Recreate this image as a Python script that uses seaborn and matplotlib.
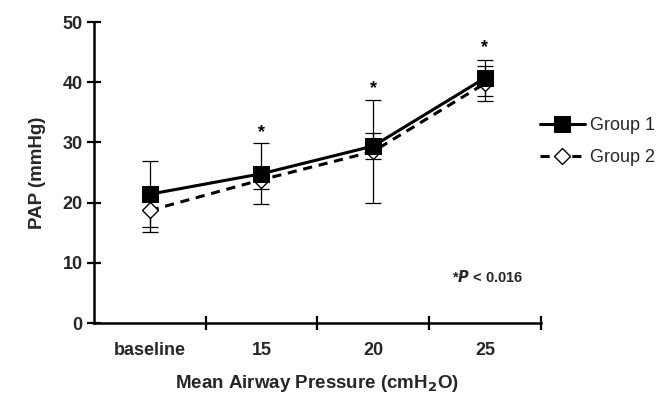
import numpy as np
import pandas as pd
import matplotlib
matplotlib.use('Agg')
import matplotlib.pyplot as plt
import seaborn as sns

# ---- data ----
categories = ['baseline', '15', '20', '25']
group1_mean = [21.4, 24.8, 29.4, 40.7]
group1_sd = [5.5, 5.1, 2.1, 3.0]
group2_mean = [18.7, 23.8, 28.5, 39.8]
group2_sd = [3.5, 1.5, 8.5, 2.9]
star_y = [None, 31.6, 39.0, 45.7]

sns.set_theme(style='white')
plt.rcParams['font.family'] = ['Liberation Sans', 'DejaVu Sans']

fig = plt.figure(figsize=(6.66, 4.01), dpi=100)
ax = fig.add_axes([0.141, 0.1945, 0.671, 0.7505])

x = np.arange(len(categories))

# error bars (drawn first so the markers sit on top)
ax.errorbar(x, group1_mean, yerr=group1_sd, fmt='none', ecolor='black',
            elinewidth=0.9, capsize=5.5, capthick=0.9, zorder=2)
ax.errorbar(x, group2_mean, yerr=group2_sd, fmt='none', ecolor='black',
            elinewidth=0.9, capsize=5.5, capthick=0.9, zorder=2)

df1 = pd.DataFrame({'x': x, 'PAP': group1_mean})
df2 = pd.DataFrame({'x': x, 'PAP': group2_mean})

sns.lineplot(data=df2, x='x', y='PAP', ax=ax, color='black', linewidth=2.2,
             linestyle=(0, (3, 2.2)), marker='D', markersize=8.5,
             markerfacecolor='white', markeredgecolor='black',
             markeredgewidth=1.0, label='Group 2', zorder=3)
sns.lineplot(data=df1, x='x', y='PAP', ax=ax, color='black', linewidth=2.2,
             marker='s', markersize=11, markerfacecolor='black',
             markeredgecolor='black', label='Group 1', zorder=4)

# significance stars
for xi, sy in zip(x, star_y):
    if sy is not None:
        ax.text(xi, sy, '*', ha='center', va='center', fontsize=13,
                fontweight='bold', color='black')

ax.text(3.02, 7.7, r'*$\mathbfit{P}$ < 0.016', ha='center', va='center',
        fontsize=10.5, fontweight='bold')

# axes styling
ax.set_xlim(-0.5, 3.5)
ax.set_ylim(0, 50)
ax.set_yticks([0, 10, 20, 30, 40, 50])
ax.set_xticks(x)
ax.set_xticklabels(categories)
ax.set_xticks([0.5, 1.5, 2.5, 3.5], minor=True)
ax.tick_params(axis='x', which='major', length=0, pad=14, labelsize=13)
ax.tick_params(axis='x', which='minor', direction='inout', length=10,
               width=1.6, color='black', bottom=True)
ax.tick_params(axis='y', direction='inout', length=10, width=1.6,
               color='black', left=True, labelsize=13, pad=3)
for lab in ax.get_xticklabels() + ax.get_yticklabels():
    lab.set_fontweight('bold')

for side in ['top', 'right']:
    ax.spines[side].set_visible(False)
for side in ['left', 'bottom']:
    ax.spines[side].set_color('black')
    ax.spines[side].set_linewidth(1.8)

ax.set_xlabel('Mean Airway Pressure (cmH$_\\mathbf{2}$O)', fontsize=13.5,
              fontweight='bold', labelpad=10)
ax.set_ylabel('PAP (mmHg)', fontsize=13.5, fontweight='bold', labelpad=12)

handles, labels = ax.get_legend_handles_labels()
order = [labels.index('Group 1'), labels.index('Group 2')]
ax.legend([handles[i] for i in order], [labels[i] for i in order],
          loc='center left', bbox_to_anchor=(0.998, 0.603), frameon=False,
          fontsize=13, handlelength=2.5, handletextpad=0.3,
          labelspacing=0.85, borderaxespad=0, borderpad=0)

plt.savefig('out.png', dpi=100)
